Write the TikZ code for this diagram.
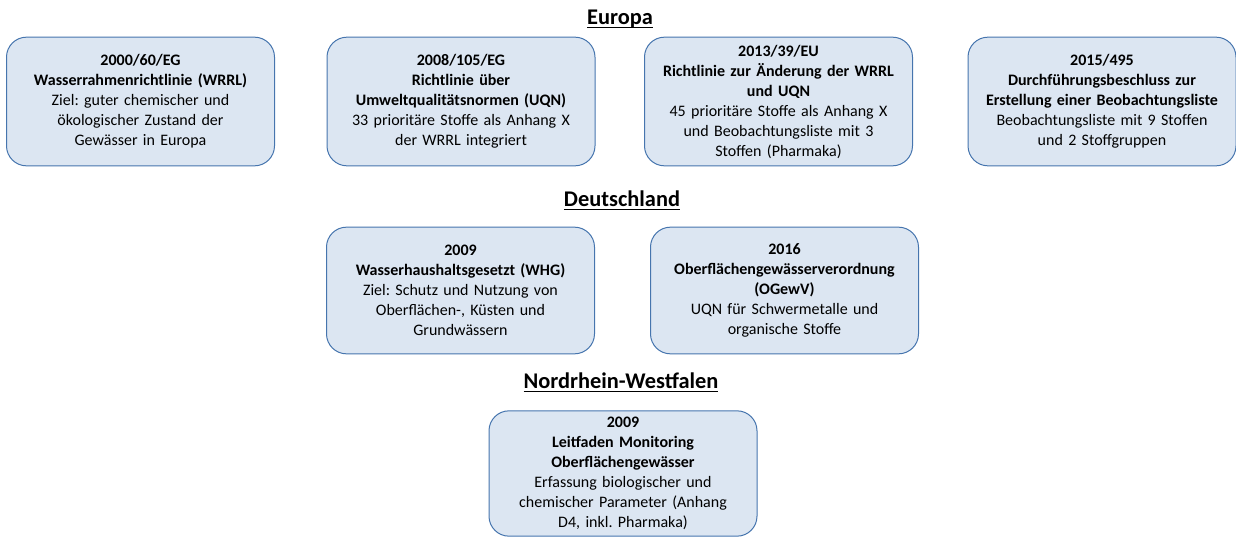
\documentclass[tikz,border=0pt]{standalone}
\usepackage{fontspec}
\setmainfont{Carlito}
\usepackage{xcolor}
\usetikzlibrary{positioning}
\definecolor{lawfill}{HTML}{DCE6F2}
\definecolor{lawline}{HTML}{4675AE}
\newcommand{\titleul}[1]{\setbox0\hbox{#1}\rlap{\rule[-2.6pt]{\wd0}{1pt}}\box0}
\frenchspacing

\begin{document}
\begin{tikzpicture}[x=0.75pt, y=-0.75pt,
  law/.style={rectangle, draw=lawline, fill=lawfill, rounded corners=15pt, line width=0.75pt,
              minimum width=201pt, minimum height=96.5pt, inner sep=2pt,
              text width=195pt, align=center, font=\fontsize{12}{15}\selectfont},
  level/.style={font=\fontsize{16.8}{19}\selectfont\bfseries, anchor=base, inner sep=0pt}
]
  \useasboundingbox (0,0) rectangle (1236,538);

  % Europa
  \node[level] (europa) at (620,25) {\titleul{Europa}};
  \node[law] (wrrl) at (140.5,101.5) {\textbf{2000/60/EG}\\ \textbf{Wasserrahmenrichtlinie (WRRL)}\\
    Ziel: guter chemischer und\\ ökologischer Zustand der\\ Gewässer in Europa};
  \node[law] (uqn) at (461,101.5) {\textbf{2008/105/EG}\\ \textbf{Richtlinie über}\\
    \textbf{Umweltqualitätsnormen (UQN)}\\ 33 prioritäre Stoffe als Anhang X\\ der WRRL integriert};
  \node[law] (aend) at (778.5,101.5) {\textbf{2013/39/EU}\\ \textbf{Richtlinie zur Änderung der WRRL}\\
    \textbf{und UQN}\\ 45 prioritäre Stoffe als Anhang X\\ und Beobachtungsliste mit 3\\ Stoffen (Pharmaka)};
  \node[law] (beob) at (1102,101.5) {\textbf{2015/495}\\ \textbf{Durchführungsbeschluss zur}\\
    \textbf{Erstellung einer Beobachtungsliste}\\ Beobachtungsliste mit 9 Stoffen\\ und 2 Stoffgruppen};

  % Deutschland
  \node[level] (deutsch) at (622,207) {\titleul{Deutschland}};
  \node[law, minimum height=95pt] (whg) at (460.5,290.5) {\textbf{2009}\\ \textbf{Wasserhaushaltsgesetzt (WHG)}\\
    Ziel: Schutz und Nutzung von\\ Oberflächen-, Küsten und\\ Grundwässern};
  \node[law, minimum height=95pt] (ogewv) at (784.5,290.5) {\textbf{2016}\\ \textbf{Oberflächengewässerverordnung}\\
    \textbf{(OGewV)}\\ UQN für Schwermetalle und\\ organische Stoffe};

  % Nordrhein-Westfalen
  \node[level] (nrw) at (621,389) {\titleul{Nordrhein-Westfalen}};
  \node[law, minimum height=94pt] (leitf) at (623,473.5) {\textbf{2009}\\ \textbf{Leitfaden Monitoring}\\
    \textbf{Oberflächengewässer}\\ Erfassung biologischer und\\ chemischer Parameter (Anhang\\ D4, inkl. Pharmaka)};
\end{tikzpicture}
\end{document}
